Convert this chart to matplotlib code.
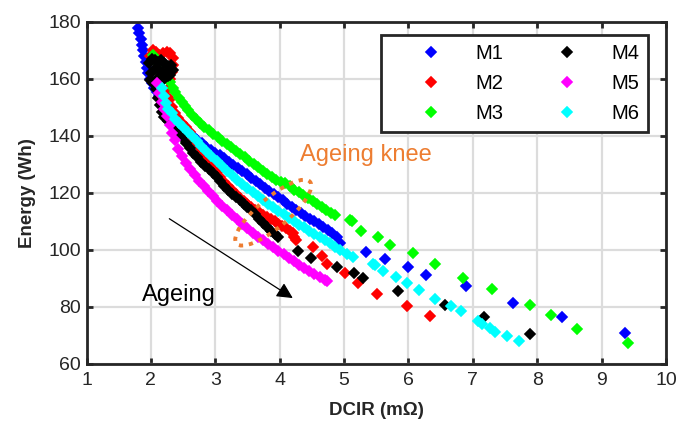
import matplotlib
matplotlib.use('Agg')
import matplotlib.pyplot as plt
from matplotlib.patches import Ellipse
from matplotlib.transforms import ScaledTranslation

plt.rcParams['font.family'] = ['Liberation Sans', 'DejaVu Sans']

# M1 (blue)
m1_x = [1.80, 1.82, 1.84, 1.86, 1.88, 1.90, 1.92, 1.94, 1.96, 1.98, 2.01, 2.05, 2.09, 2.13, 2.17,
        2.21, 2.26, 2.31, 2.36, 2.41, 2.47, 2.53, 2.59, 2.65, 2.72, 2.79, 2.86, 2.93, 3.00, 3.07,
        3.14, 3.21, 3.28, 3.35, 3.42, 3.49, 3.56, 3.63, 3.70, 3.77, 3.84, 3.91, 3.98, 4.05, 4.12,
        4.19, 4.26, 4.33, 4.40, 4.47, 4.54, 4.61, 4.68, 4.75, 4.82, 4.89, 4.94,
        5.34, 5.64, 5.99, 6.28, 6.89, 7.63, 8.39, 9.37]
m1_y = [178.0, 176.0, 174.0, 172.0, 170.0, 168.0, 166.0, 164.0, 162.0, 160.0, 158.5, 157.0, 155.5, 154.0, 152.8,
        151.5, 150.0, 148.5, 147.0, 145.8, 144.3, 142.8, 141.3, 140.0, 138.7, 137.5, 136.3, 135.2, 134.2, 133.2,
        132.2, 131.0, 129.8, 128.7, 127.6, 126.5, 125.4, 124.3, 123.0, 121.9, 120.7, 119.6, 118.5, 117.4, 116.3,
        115.2, 114.2, 113.1, 112.1, 111.0, 110.0, 109.0, 108.0, 107.0, 105.8, 104.4, 102.6,
        99.3, 96.8, 94.0, 91.2, 87.2, 81.3, 76.5, 70.9]

# M2 (red)
m2_x = [1.99, 2.03, 2.08, 2.13, 2.19, 2.25, 2.30, 2.34, 2.35, 2.33, 2.29,
        2.27, 2.30, 2.33, 2.37, 2.42, 2.48, 2.54, 2.60, 2.66, 2.72, 2.78, 2.84, 2.90, 2.96, 3.02,
        3.08, 3.14, 3.20, 3.26, 3.32, 3.38, 3.44, 3.50, 3.56, 3.62, 3.68, 3.74, 3.80, 3.86, 3.92,
        3.98, 4.04, 4.10, 4.16, 4.20, 4.23, 4.26,
        4.52, 4.65, 4.73, 5.02, 5.22, 5.51, 5.97, 6.33]
m2_y = [168.0, 170.0, 169.5, 168.5, 169.0, 169.5, 169.0, 167.5, 165.0, 162.5, 160.0,
        156.5, 153.0, 150.0, 148.0, 146.3, 144.6, 143.0, 141.3, 139.4, 137.4, 135.4, 133.4, 131.4, 129.4, 127.5,
        125.7, 124.0, 122.4, 120.9, 119.6, 118.4, 117.3, 116.2, 115.2, 114.2, 113.3, 112.4, 111.6, 110.8, 110.0,
        109.2, 108.4, 107.6, 106.8, 105.8, 104.6, 103.4,
        100.9, 98.0, 95.1, 91.9, 88.4, 84.7, 80.5, 76.7]

# M3 (green)
m3_x = [2.03, 2.06, 2.10, 2.15, 2.20, 2.25, 2.30, 2.34, 2.38, 2.43, 2.48, 2.53, 2.58, 2.64, 2.70,
        2.76, 2.83, 2.90, 2.97, 3.04, 3.11, 3.18, 3.25, 3.32, 3.39, 3.46, 3.53, 3.60, 3.67, 3.74,
        3.81, 3.88, 3.95, 4.02, 4.09, 4.16, 4.23, 4.30, 4.37, 4.44, 4.51, 4.58, 4.65, 4.72, 4.80,
        4.86, 5.09, 5.12, 5.27, 5.53, 5.71, 6.07, 6.41, 6.85, 7.29, 7.89, 8.22, 8.61, 9.41]
m3_y = [168.5, 167.5, 166.0, 164.5, 163.0, 161.0, 159.0, 157.0, 155.5, 153.5, 152.0, 150.5, 149.0, 147.5, 146.0,
        144.5, 143.2, 142.0, 140.8, 139.6, 138.4, 137.2, 136.0, 134.8, 133.6, 132.5, 131.4, 130.2, 129.0, 127.8,
        126.7, 125.6, 124.5, 123.9, 123.4, 122.3, 121.2, 120.2, 119.2, 118.2, 117.2, 116.2, 115.2, 114.2, 113.0,
        112.4, 110.6, 110.0, 106.7, 104.5, 101.9, 98.9, 95.0, 90.2, 86.3, 80.8, 77.3, 72.4, 67.4]

# M4 (black)
m4_x = [1.97, 2.01, 2.06, 2.11, 2.16, 2.21, 2.26, 2.31, 2.34, 2.30, 2.24, 2.18, 2.12, 2.06, 2.00,
        1.99, 2.04, 2.09, 2.15, 2.21, 2.27,
        2.08, 2.11, 2.14, 2.17, 2.21, 2.26, 2.31, 2.36, 2.42, 2.48, 2.54, 2.60, 2.66, 2.72, 2.78,
        2.84, 2.90, 2.96, 3.02, 3.08, 3.14, 3.20, 3.26, 3.32, 3.38, 3.44, 3.50, 3.56, 3.62, 3.68,
        3.74, 3.80, 3.86, 3.92, 3.98,
        4.28, 4.48, 4.89, 5.15, 5.30, 5.83, 6.57, 7.18, 7.89]
m4_y = [165.5, 167.0, 166.5, 166.0, 166.5, 165.5, 164.5, 165.0, 163.0, 161.5, 162.0, 162.5, 163.0, 163.5, 162.0,
        159.5, 158.5, 160.0, 159.5, 160.0, 161.0,
        156.5, 153.5, 151.0, 148.5, 146.5, 145.3, 144.3, 143.2, 141.5, 139.6, 137.7, 135.8, 134.0, 132.5, 131.0,
        129.6, 128.3, 127.0, 125.6, 124.1, 122.5, 121.0, 119.6, 118.5, 117.4, 116.3, 115.2, 113.9, 112.5, 111.0,
        109.4, 107.9, 106.6, 105.6, 104.6,
        99.8, 97.3, 94.0, 92.1, 90.3, 85.7, 80.7, 76.5, 70.5]

# M5 (magenta)
m5_x = [2.09, 2.13, 2.17, 2.21, 2.25, 2.29, 2.33, 2.37, 2.42, 2.48, 2.55, 2.61, 2.68, 2.75, 2.82,
        2.89, 2.96, 3.03, 3.10, 3.18, 3.26, 3.34, 3.42, 3.50, 3.58, 3.66, 3.74, 3.82, 3.90, 3.98,
        4.06, 4.14, 4.22, 4.30, 4.38, 4.46, 4.54, 4.62, 4.70, 4.74]
m5_y = [158.5, 155.0, 152.0, 149.5, 147.0, 144.0, 141.0, 138.5, 135.5, 133.0, 130.5, 128.3, 126.3, 124.3, 122.4,
        120.6, 118.8, 117.1, 115.6, 114.0, 112.4, 110.8, 109.2, 107.6, 106.1, 104.7, 103.4, 102.1, 100.9, 99.7,
        98.5, 97.3, 96.1, 94.9, 93.8, 92.7, 91.6, 90.6, 89.6, 89.2]

# M6 (cyan)
m6_x = [2.17, 2.20, 2.23, 2.27, 2.32, 2.38, 2.44, 2.50, 2.57, 2.64, 2.71, 2.78, 2.86, 2.94, 3.02,
        3.10, 3.18, 3.26, 3.34, 3.42, 3.50, 3.58, 3.66, 3.74, 3.82, 3.90, 3.98, 4.06, 4.14, 4.22,
        4.30, 4.38, 4.46, 4.54, 4.62, 4.70, 4.78, 4.86, 4.94, 5.04, 5.14,
        5.45, 5.48, 5.60, 5.80, 5.98, 6.17, 6.42, 6.66, 6.82, 7.08, 7.14, 7.27, 7.35, 7.53, 7.72]
m6_y = [157.0, 154.0, 151.5, 149.5, 148.0, 146.0, 144.5, 143.0, 141.5, 140.0, 138.3, 136.5, 134.8, 133.0, 131.2,
        129.5, 127.8, 126.2, 124.6, 123.1, 121.7, 120.3, 118.9, 117.6, 116.3, 115.1, 113.8, 112.5, 111.2, 110.0,
        108.9, 107.9, 106.8, 105.7, 104.6, 103.5, 102.3, 101.2, 100.0, 98.5, 97.7,
        95.2, 94.6, 92.5, 90.4, 88.4, 86.1, 82.9, 80.5, 78.7, 75.0, 74.2, 72.8, 71.4, 69.7, 67.9]

series = [('M1', m1_x, m1_y, '#0000ff'),
          ('M2', m2_x, m2_y, '#ff0000'),
          ('M3', m3_x, m3_y, '#00ff00'),
          ('M4', m4_x, m4_y, '#000000'),
          ('M5', m5_x, m5_y, '#ff00ff'),
          ('M6', m6_x, m6_y, '#00ffff')]

x_ticks = [1, 2, 3, 4, 5, 6, 7, 8, 9, 10]
y_ticks = [60, 80, 100, 120, 140, 160, 180]

fig = plt.figure(figsize=(6.78, 4.23), dpi=100)
ax = fig.add_axes([0.1276, 0.1395, 0.8547, 0.8085])

for name, xs, ys, c in series:
    ax.plot(xs, ys, linestyle='none', marker='D', markersize=5.6, markeredgewidth=1.2,
            color=c, markeredgecolor=c, label=name)

ax.set_xlim(1, 10)
ax.set_ylim(60, 180)
ax.set_xticks(x_ticks)
ax.set_yticks(y_ticks)
ax.grid(True, color='#dcdcdc', linewidth=1.6)
ax.set_axisbelow(True)

for s in ax.spines.values():
    s.set_linewidth(2)
    s.set_color('#262626')
ax.tick_params(direction='in', length=4, width=2, color='#262626', labelcolor='#262626',
               labelsize=14, top=True, right=True)
ax.tick_params(axis='x', pad=6)
ax.tick_params(axis='y', pad=4)

ax.set_xlabel('DCIR (m\u03a9)', fontsize=13.5, fontweight='bold', color='#262626', labelpad=9)
ax.set_ylabel('Energy (Wh)', fontsize=13.5, fontweight='bold', color='#262626', labelpad=9)

leg = ax.legend(ncol=2, loc='upper right', bbox_to_anchor=(0.969, 0.962), borderaxespad=0,
                fontsize=14.5, handlelength=4.1, handletextpad=0.15, columnspacing=1.1,
                borderpad=0.45, labelspacing=0.55, fancybox=False, framealpha=1,
                edgecolor='#262626')
leg.get_frame().set_linewidth(2)

# ageing knee annotation (dotted ellipse sized in inches, centred on a data point)
knee = Ellipse((0, 0), width=0.96, height=0.30, angle=40, fill=False,
               edgecolor='#ed7d31', linewidth=2.8, linestyle=(0, (1.1, 1.5)), zorder=6,
               transform=fig.dpi_scale_trans + ScaledTranslation(3.90, 113.1, ax.transData))
ax.add_patch(knee)
ax.text(4.32, 131.4, 'Ageing knee', color='#ed7d31', fontsize=17, va='baseline', ha='left')

ax.annotate('', xy=(4.24, 82.6), xytext=(2.25, 111.5),
            arrowprops=dict(arrowstyle='-|>', color='black', lw=0.9, mutation_scale=24))
ax.text(1.86, 82.2, 'Ageing', color='black', fontsize=17, va='baseline', ha='left')

fig.savefig('out.png', dpi=100)
